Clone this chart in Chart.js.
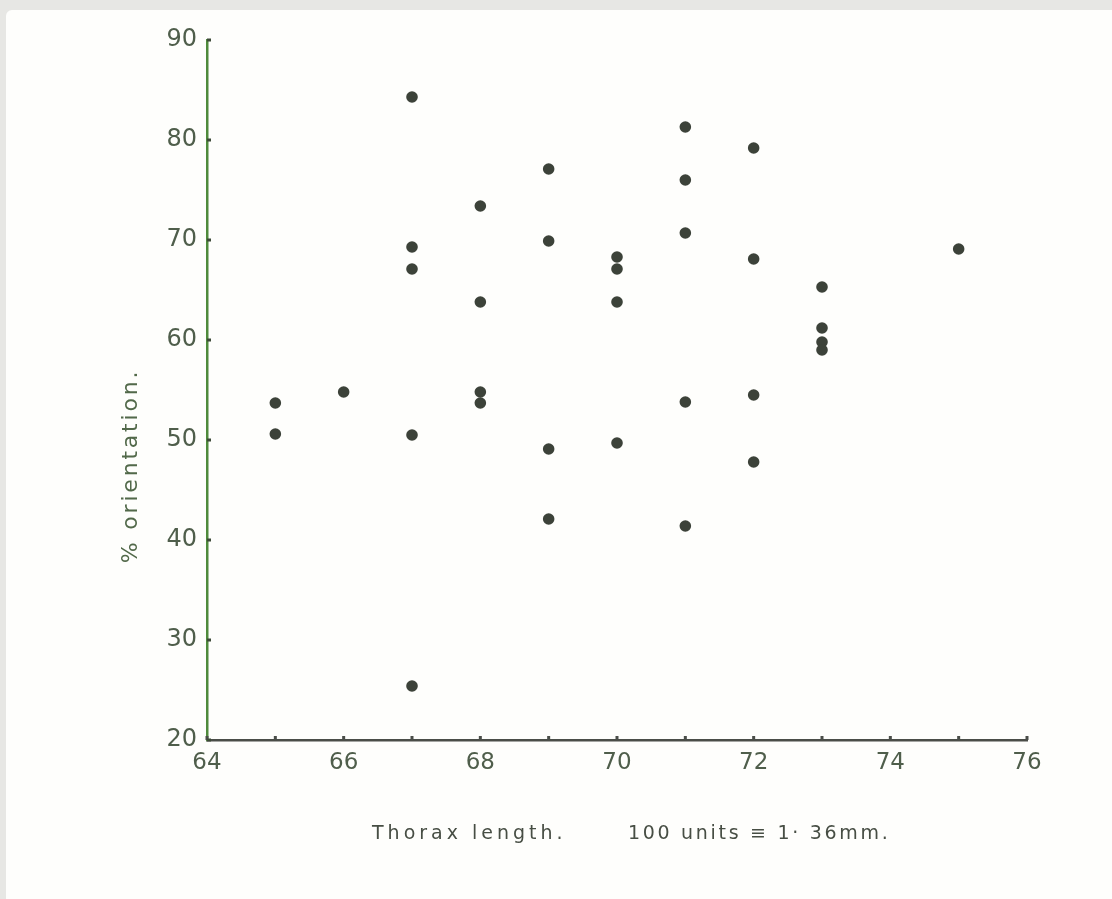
<!DOCTYPE html>
<html>
<head>
<meta charset="utf-8">
<script src="https://cdn.jsdelivr.net/npm/chart.js@4/dist/chart.umd.min.js"></script>
<style>
  html, body { margin: 0; padding: 0; background: #e7e7e4; }
  #wrap { position: relative; width: 1112px; height: 899px; }
  canvas { display: block; }
</style>
</head>
<body>
<div id="wrap"><canvas id="c" width="1112" height="899"></canvas></div>
<script>
// Thorax length (100 units = 1.36 mm) against % orientation
const thoraxLength = [
  65, 65,
  66,
  67, 67, 67, 67, 67,
  68, 68, 68, 68,
  69, 69, 69, 69,
  70, 70, 70, 70,
  71, 71, 71, 71, 71,
  72, 72, 72, 72,
  73, 73, 73, 73,
  75
];
const orientationPct = [
  53.7, 50.6,
  54.8,
  84.3, 69.3, 67.1, 50.5, 25.4,
  73.4, 63.8, 54.8, 53.7,
  77.1, 69.9, 49.1, 42.1,
  68.3, 67.1, 63.8, 49.7,
  81.3, 76.0, 70.7, 53.8, 41.4,
  79.2, 68.1, 54.5, 47.8,
  65.3, 61.2, 59.8, 59.0,
  69.1
];
const xTickLabels = ['64', '66', '68', '70', '72', '74', '76'];
const yTickLabels = ['20', '30', '40', '50', '60', '70', '80', '90'];
const xTitleLeft = 'Thorax length.';
const xTitleRight = '100 units \u2261 1\u00b7 36mm.';
const yTitle = '% orientation.';

const points = thoraxLength.map((x, i) => ({ x: x, y: orientationPct[i] }));

const FONT = "'DejaVu Sans', 'Lato', sans-serif";
const AXIS_GREEN = '#4f8a3c';
const AXIS_GREY = '#4a4d48';
const LABEL_COL = '#4f5e4b';

// paper sheet behind the plot
const paperPlugin = {
  id: 'paper',
  beforeDraw(chart) {
    const ctx = chart.ctx;
    ctx.save();
    ctx.fillStyle = '#e7e7e4';
    ctx.fillRect(0, 0, chart.width, chart.height);
    ctx.fillStyle = '#fefefc';
    ctx.beginPath();
    ctx.roundRect(6, 10, chart.width - 6, chart.height - 10, [6, 0, 0, 0]);
    ctx.fill();
    ctx.restore();
  }
};

// small inward tick marks and the axis titles
const marksPlugin = {
  id: 'marks',
  afterDraw(chart) {
    const ctx = chart.ctx;
    const xs = chart.scales.x, ys = chart.scales.y;
    const area = chart.chartArea;
    const spacing = (px) => { if (ctx.letterSpacing !== undefined) ctx.letterSpacing = px; };
    ctx.save();
    ctx.fillStyle = AXIS_GREY;
    for (let v = 64; v <= 76; v++) {
      const px = xs.getPixelForValue(v);
      ctx.fillRect(px - 1.5, area.bottom - 4, 3, 4);
    }
    ctx.fillStyle = '#3d4a38';
    yTickLabels.forEach(t => {
      const py = ys.getPixelForValue(Number(t));
      ctx.fillRect(area.left, py - 1.5, 4, 3);
    });

    ctx.fillStyle = '#474e44';
    ctx.font = "19px " + FONT;
    ctx.textBaseline = 'middle';
    ctx.textAlign = 'left';
    spacing('4px');
    ctx.fillText(xTitleLeft, 372, 834);
    spacing('2.7px');
    ctx.fillText(xTitleRight, 628, 834);

    ctx.translate(131, 466);
    ctx.rotate(-Math.PI / 2);
    ctx.textAlign = 'center';
    ctx.font = "22px " + FONT;
    spacing('2.8px');
    ctx.fillStyle = '#52694a';
    ctx.fillText(yTitle, 0, 0);
    ctx.restore();
  }
};

new Chart(document.getElementById('c'), {
  type: 'scatter',
  data: {
    datasets: [{
      data: points,
      backgroundColor: '#3c4239',
      borderColor: '#3c4239',
      borderWidth: 0,
      pointRadius: 5.8,
      pointHoverRadius: 5.8
    }]
  },
  options: {
    responsive: false,
    animation: false,
    events: [],
    layout: { padding: { left: 0, top: 40, right: 85, bottom: 0 } },
    plugins: {
      legend: { display: false },
      tooltip: { enabled: false }
    },
    scales: {
      x: {
        type: 'linear',
        min: 64,
        max: 76,
        afterFit(s) { s.height = 159; },
        afterBuildTicks(s) {
          s.ticks = xTickLabels.map(t => ({ value: Number(t) }));
        },
        border: { display: true, color: AXIS_GREY, width: 2.5 },
        grid: { display: false },
        ticks: {
          color: LABEL_COL,
          font: { family: FONT, size: 23 },
          padding: 1,
          maxRotation: 0,
          callback: (v) => String(v)
        }
      },
      y: {
        type: 'linear',
        min: 20,
        max: 90,
        afterFit(s) { s.width = 207; },
        afterBuildTicks(s) {
          s.ticks = yTickLabels.map(t => ({ value: Number(t) }));
        },
        border: { display: true, color: AXIS_GREEN, width: 2.5 },
        grid: { display: false },
        ticks: {
          color: LABEL_COL,
          font: { family: FONT, size: 24 },
          padding: 2,
          callback: (v) => String(v)
        }
      }
    }
  },
  plugins: [paperPlugin, marksPlugin]
});
</script>
</body>
</html>
